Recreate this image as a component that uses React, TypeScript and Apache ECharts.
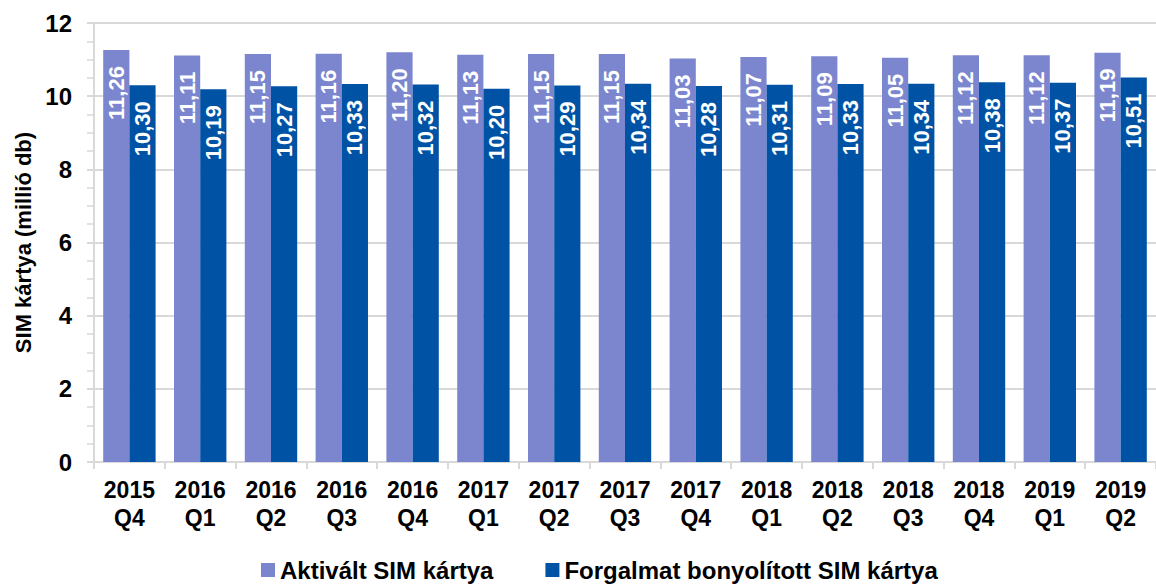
import React, { useEffect, useRef } from "react";
import * as echarts from "echarts";

const categories = [
  "2015\nQ4", "2016\nQ1", "2016\nQ2", "2016\nQ3", "2016\nQ4",
  "2017\nQ1", "2017\nQ2", "2017\nQ3", "2017\nQ4", "2018\nQ1",
  "2018\nQ2", "2018\nQ3", "2018\nQ4", "2019\nQ1", "2019\nQ2",
];
const aktivalt = [11.26, 11.11, 11.15, 11.16, 11.2, 11.13, 11.15, 11.15, 11.03, 11.07, 11.09, 11.05, 11.12, 11.12, 11.19];
const forgalmat = [10.3, 10.19, 10.27, 10.33, 10.32, 10.2, 10.29, 10.34, 10.28, 10.31, 10.33, 10.34, 10.38, 10.37, 10.51];
const seriesNames = ["Aktivált SIM kártya", "Forgalmat bonyolított SIM kártya"];
const yAxisName = "SIM kártya (millió db)";

const FONT = "'Liberation Sans', Arial, sans-serif";

export default function App() {
  const ref = useRef<HTMLDivElement>(null);
  useEffect(() => {
    if (!ref.current) return;
    const chart = echarts.init(ref.current, null, { renderer: "svg" });
    const label = {
      show: true,
      position: "insideTop" as const,
      rotate: 90,
      align: "right" as const,
      verticalAlign: "middle" as const,
      distance: 16,
      color: "#ffffff",
      fontWeight: "bold" as const,
      fontSize: 22,
      fontFamily: FONT,
      formatter: (p: any) => Number(p.value).toFixed(2).replace(".", ","),
    };
    chart.setOption({
      animation: false,
      textStyle: { fontFamily: FONT },
      grid: { left: 94, right: 0, top: 23, bottom: 123, containLabel: false },
      legend: {
        left: 256,
        top: 552,
        itemWidth: 14,
        itemHeight: 14,
        itemGap: 52,
        icon: "rect",
        textStyle: { fontSize: 24, lineHeight: 26, fontWeight: "bold", color: "#000", fontFamily: FONT },
        data: seriesNames,
      },
      xAxis: {
        type: "category",
        data: categories,
        axisLine: { show: true, lineStyle: { color: "#d9d9d9", width: 2 } },
        axisTick: { show: true, length: 7, lineStyle: { color: "#d9d9d9", width: 2 } },
        axisLabel: {
          fontSize: 23,
          fontWeight: "bold",
          color: "#000",
          lineHeight: 28,
          margin: 14,
          fontFamily: FONT,
        },
      },
      yAxis: {
        type: "value",
        min: 0,
        max: 12,
        interval: 2,
        name: yAxisName,
        nameLocation: "middle",
        nameGap: 60,
        nameTextStyle: { fontSize: 22, fontWeight: "bold", color: "#000", fontFamily: FONT },
        axisLine: { show: true, lineStyle: { color: "#d9d9d9", width: 2 } },
        axisTick: { show: true, inside: false, length: 7, lineStyle: { color: "#d9d9d9", width: 2 } },
        minorTick: { show: true, splitNumber: 4, length: 7, lineStyle: { color: "#d9d9d9", width: 1.5 } },
        splitLine: { show: true, lineStyle: { color: "#d9d9d9", width: 2 } },
        axisLabel: {
          fontSize: 24,
          fontWeight: "bold",
          color: "#000",
          margin: 22,
          fontFamily: FONT,
        },
      },
      series: [
        {
          name: seriesNames[0],
          type: "bar",
          data: aktivalt,
          itemStyle: { color: "#7b86cf" },
          barGap: "0%",
          barCategoryGap: "26%",
          label,
        },
        {
          name: seriesNames[1],
          type: "bar",
          data: forgalmat,
          itemStyle: { color: "#0053a4" },
          barGap: "0%",
          barCategoryGap: "26%",
          label,
        },
      ],
    });
    return () => chart.dispose();
  }, []);
  return (
    <div
      ref={ref}
      style={{ position: "fixed", left: 0, top: 0, width: 1156, height: 585, background: "#fff" }}
    />
  );
}
